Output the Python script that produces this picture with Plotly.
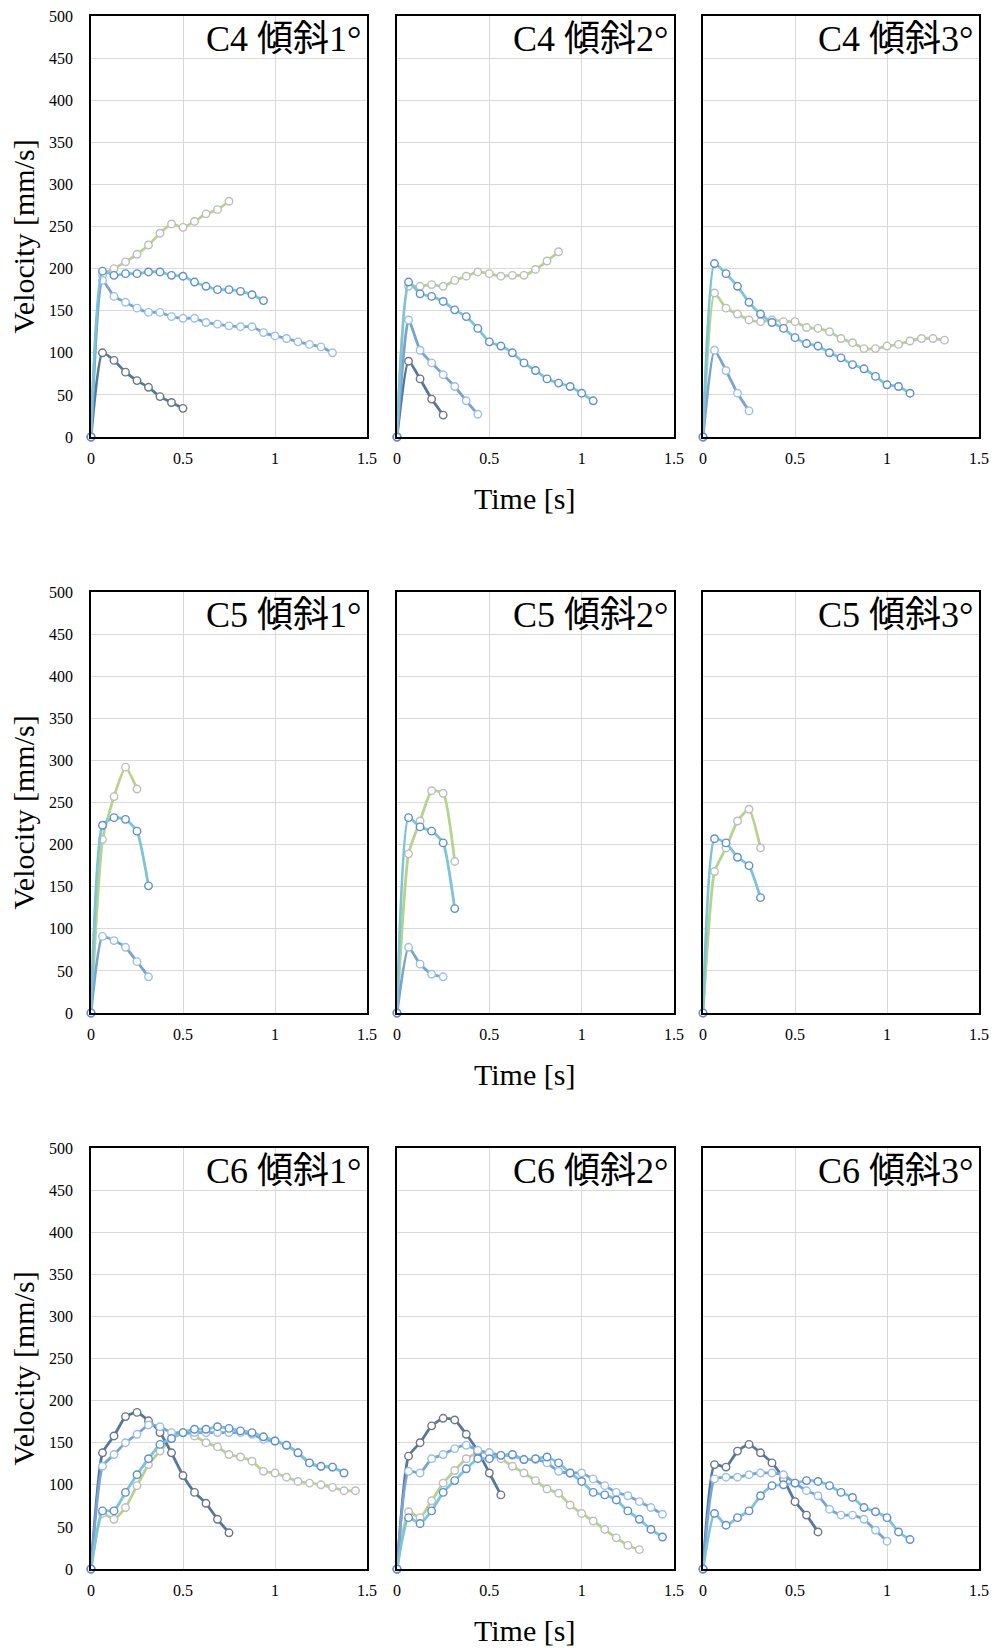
import plotly.graph_objects as go

# ---- sampling times (s) ----
T = [0, 0.0625, 0.125, 0.1875, 0.25, 0.3125, 0.375, 0.4375, 0.5, 0.5625,
     0.625, 0.6875, 0.75, 0.8125, 0.875, 0.9375, 1.0, 1.0625, 1.125, 1.1875,
     1.25, 1.3125, 1.375, 1.4375]

X_TICKS = [0, 0.5, 1, 1.5]
X_TICK_TEXT = ["0", "0.5", "1", "1.5"]
Y_TICKS = [0, 50, 100, 150, 200, 250, 300, 350, 400, 450, 500]

# ---- C4 ----
c4_1_dark = [0, 100, 91, 77, 67, 59, 48, 41, 34]
c4_1_teal = [0, 197, 192, 194, 194, 196, 196, 192, 191, 184, 179, 175, 175, 173, 169, 162]
c4_1_mid = [0, 186, 167, 160, 153, 148, 148, 143, 141, 141, 136, 134, 132, 131, 131, 124,
            120, 117, 113, 110, 107, 100]
c4_1_green = [0, 192, 200, 208, 217, 228, 242, 253, 249, 256, 265, 270, 280]

c4_2_dark = [0, 90, 69, 45, 26]
c4_2_mid = [0, 139, 103, 88, 74, 60, 43, 27]
c4_2_teal = [0, 184, 170, 167, 161, 151, 143, 129, 113, 108, 100, 88, 79, 69, 64, 60, 52, 43]
c4_2_green = [0, 179, 179, 181, 179, 186, 191, 196, 194, 191, 192, 192, 199, 209, 220]

c4_3_mid = [0, 103, 79, 52, 31]
c4_3_teal = [0, 206, 194, 179, 160, 146, 136, 129, 118, 111, 108, 100, 94, 86, 81, 72, 62, 60, 52]
c4_3_green = [0, 171, 153, 146, 139, 137, 139, 137, 137, 130, 129, 125, 117, 112, 105, 105,
              108, 110, 114, 117, 117, 115]

# ---- C5 ----
c5_1_mid = [0, 91, 86, 78, 61, 43]
c5_1_teal = [0, 223, 232, 230, 216, 151]
c5_1_green = [0, 206, 257, 292, 266]

c5_2_mid = [0, 78, 58, 46, 43]
c5_2_teal = [0, 232, 221, 216, 202, 124]
c5_2_green = [0, 189, 228, 264, 261, 180]

c5_3_teal = [0, 207, 202, 185, 175, 137]
c5_3_green = [0, 168, 196, 228, 242, 196]

# ---- C6 ----
c6_1_dark = [0, 138, 158, 181, 186, 176, 162, 138, 111, 91, 78, 59, 43]
c6_1_mid = [0, 122, 136, 150, 160, 171, 169, 162, 162, 162, 162, 162, 162, 162, 160, 154,
            152, 147, 138, 126, 122, 121]
c6_1_teal = [0, 69, 69, 91, 112, 131, 148, 155, 162, 166, 166, 169, 167, 164, 162, 157,
             152, 147, 138, 126, 122, 121, 114]
c6_1_green = [0, 66, 59, 73, 99, 124, 140, 155, 162, 158, 150, 145, 136, 133, 128, 116,
              114, 109, 104, 102, 100, 97, 93, 93]

c6_2_dark = [0, 134, 150, 170, 179, 177, 160, 140, 114, 88]
c6_2_mid = [0, 116, 114, 131, 136, 143, 147, 141, 138, 135, 135, 130, 130, 126, 116, 114,
            114, 107, 99, 91, 87, 80, 73, 65]
c6_2_teal = [0, 61, 54, 69, 91, 105, 119, 131, 131, 135, 136, 130, 131, 133, 126, 114,
             104, 91, 88, 82, 69, 59, 47, 38]
c6_2_green = [0, 68, 61, 81, 102, 117, 131, 138, 138, 131, 122, 114, 105, 95, 90, 76,
              66, 57, 47, 37, 28, 23]

c6_3_dark = [0, 124, 121, 140, 148, 138, 126, 107, 80, 64, 44]
c6_3_mid = [0, 107, 109, 109, 112, 114, 114, 112, 102, 93, 87, 71, 64, 64, 59, 46, 33]
c6_3_teal = [0, 66, 52, 61, 69, 87, 99, 100, 102, 105, 104, 99, 91, 85, 73, 68, 61, 44, 35]

PANEL_TITLES = ["C4 傾斜1°", "C4 傾斜2°", "C4 傾斜3°",
                "C5 傾斜1°", "C5 傾斜2°", "C5 傾斜3°",
                "C6 傾斜1°", "C6 傾斜2°", "C6 傾斜3°"]

PANEL_SERIES = [
    [("green", c4_1_green), ("dark", c4_1_dark), ("mid", c4_1_mid), ("teal", c4_1_teal)],
    [("green", c4_2_green), ("dark", c4_2_dark), ("mid", c4_2_mid), ("teal", c4_2_teal)],
    [("green", c4_3_green), ("mid", c4_3_mid), ("teal", c4_3_teal)],
    [("green", c5_1_green), ("mid", c5_1_mid), ("teal", c5_1_teal)],
    [("green", c5_2_green), ("mid", c5_2_mid), ("teal", c5_2_teal)],
    [("green", c5_3_green), ("teal", c5_3_teal)],
    [("green", c6_1_green), ("dark", c6_1_dark), ("mid", c6_1_mid), ("teal", c6_1_teal)],
    [("green", c6_2_green), ("dark", c6_2_dark), ("mid", c6_2_mid), ("teal", c6_2_teal)],
    [("dark", c6_3_dark), ("mid", c6_3_mid), ("teal", c6_3_teal)],
]

STYLE = {
    "dark": dict(line="#56779d", mk="#6c7684"),
    "mid": dict(line="#7aa3d3", mk="#98c2ec"),
    "teal": dict(line="#7cc4d8", mk="#5b8edb"),
    "green": dict(line="#b5d38b", mk="#bdbdbd"),
}

# page is drawn with an 8px body offset: page pixel P -> figure pixel P - OFF
OFF = 8
W, H = 997 - OFF, 1648 - OFF
X_PIX = [(91, 367), (397, 674), (703, 979)]
Y_PIX = [(16, 437), (592, 1013), (1148, 1569)]
XD = [[(a - OFF) / W, (b - OFF) / W] for a, b in X_PIX]
YD = [[1 - (b - OFF) / H, 1 - (a - OFF) / H] for a, b in Y_PIX]


def px(xp):
    return (xp - OFF) / W


def py(yp):
    return 1 - (yp - OFF) / H


SERIF = "Liberation Serif, Times New Roman, Noto Sans CJK JP, serif"

fig = go.Figure()
layout = dict(width=W, height=H, margin=dict(l=0, r=0, t=0, b=0, autoexpand=False),
              paper_bgcolor="white", plot_bgcolor="white", showlegend=False,
              font=dict(family=SERIF, color="black"))
annotations = []

for i, series in enumerate(PANEL_SERIES):
    r, c = divmod(i, 3)
    sfx = "" if i == 0 else str(i + 1)
    for key, vals in series:
        st = STYLE[key]
        fig.add_trace(go.Scatter(
            x=T[:len(vals)], y=vals, mode="lines+markers",
            xaxis="x" + sfx, yaxis="y" + sfx, cliponaxis=False,
            line=dict(color=st["line"], width=2.8, shape="spline", smoothing=0.5),
            marker=dict(symbol="circle", size=7.5, color="white",
                        line=dict(color=st["mk"], width=1.4)),
            hoverinfo="x+y"))
    common = dict(showgrid=True, gridcolor="#d9d9d9", gridwidth=1, zeroline=False,
                  showline=True, linecolor="black", linewidth=1.8, mirror=True,
                  ticks="", automargin=False, ticklabeloverflow="allow",
                  tickfont=dict(family=SERIF, size=16, color="black"))
    layout["xaxis" + sfx] = dict(common, domain=XD[c], anchor="y" + sfx,
                                 range=[0, 1.5], tickvals=X_TICKS, ticktext=X_TICK_TEXT,
                                 ticklabelstandoff=6)
    layout["yaxis" + sfx] = dict(common, domain=YD[r], anchor="x" + sfx,
                                 range=[0, 500], tickvals=Y_TICKS,
                                 showticklabels=(c == 0), ticklabelstandoff=13)
    annotations.append(dict(text=PANEL_TITLES[i], xref="paper", yref="paper",
                            x=px(X_PIX[c][1] - 4), y=py(Y_PIX[r][0] + 1),
                            xanchor="right", yanchor="top", showarrow=False,
                            font=dict(family=SERIF, size=36, color="black")))

for r in range(3):
    annotations.append(dict(text="Velocity [mm/s]", xref="paper", yref="paper",
                            x=px(23), y=py(sum(Y_PIX[r]) / 2 + 10),
                            xanchor="center", yanchor="middle", textangle=-90,
                            showarrow=False,
                            font=dict(family=SERIF, size=30, color="black")))
    annotations.append(dict(text="Time [s]", xref="paper", yref="paper",
                            x=px(524), y=py(Y_PIX[r][1] + 61),
                            xanchor="center", yanchor="middle", showarrow=False,
                            font=dict(family=SERIF, size=30, color="black")))

layout["annotations"] = annotations
fig.update_layout(**layout)
fig.write_html("out.html")
